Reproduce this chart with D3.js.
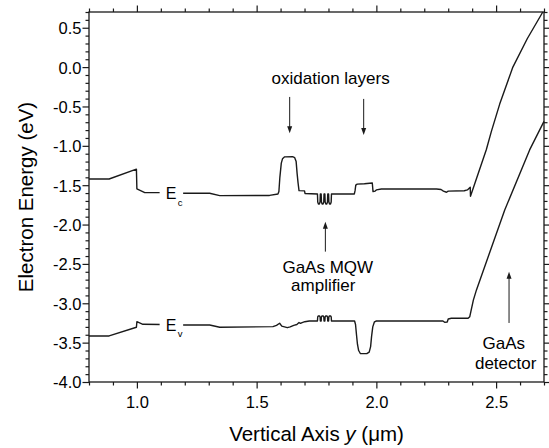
<!DOCTYPE html>
<html><head><meta charset="utf-8">
<script src="https://cdn.jsdelivr.net/npm/d3@7"></script>
<style>
body{margin:0;background:#fff}
svg{display:block}
text{font-family:"Liberation Sans",Arial,Helvetica,sans-serif;fill:#000}
</style>
</head><body>
<svg id="chart" width="549" height="448"></svg>
<script>
// ---------- data (position in µm, energy in eV) ----------
const ecData = [
  [0.80,-1.421],[0.884,-1.421],[0.998,-1.297],[1.000,-1.548],[1.033,-1.595],[1.100,-1.595],
  [1.192,-1.602],[1.304,-1.602],[1.346,-1.633],[1.554,-1.630],[1.589,-1.612],
  [1.593,-1.580],[1.597,-1.400],[1.603,-1.220],[1.608,-1.165],[1.617,-1.140],[1.650,-1.138],
  [1.659,-1.150],[1.665,-1.200],[1.669,-1.350],[1.673,-1.470],[1.677,-1.569],[1.700,-1.572],
  [1.702,-1.605],[1.754,-1.611],
  [1.7552,-1.715],[1.758,-1.738],[1.762,-1.738],[1.7648,-1.715],[1.766,-1.611],
  [1.7695,-1.611],[1.7707,-1.715],[1.7735,-1.738],[1.7775,-1.738],[1.7803,-1.715],[1.7815,-1.611],
  [1.785,-1.611],[1.7862,-1.715],[1.789,-1.738],[1.793,-1.738],[1.7958,-1.715],[1.797,-1.611],
  [1.8005,-1.611],[1.8017,-1.715],[1.8045,-1.738],[1.8085,-1.738],[1.8113,-1.715],[1.8125,-1.611],
  [1.816,-1.611],[1.908,-1.611],[1.911,-1.570],[1.914,-1.500],[1.920,-1.487],[1.950,-1.482],
  [1.983,-1.472],[1.986,-1.582],[1.995,-1.575],[2.000,-1.560],[2.021,-1.548],[2.251,-1.548],
  [2.270,-1.555],[2.280,-1.575],[2.293,-1.590],[2.300,-1.576],[2.367,-1.570],[2.380,-1.560],
  [2.392,-1.525],[2.393,-1.640],[2.459,-1.050],[2.480,-0.820],[2.515,-0.470],[2.570,0.000],
  [2.630,0.360],[2.695,0.700]
];
const evData = [
  [0.80,-3.415],[0.884,-3.415],[0.998,-3.305],[1.000,-3.234],[1.025,-3.267],[1.100,-3.270],
  [1.192,-3.276],[1.304,-3.276],[1.346,-3.305],[1.568,-3.297],[1.583,-3.280],[1.596,-3.254],
  [1.605,-3.290],[1.628,-3.310],[1.640,-3.300],[1.655,-3.280],[1.668,-3.270],[1.677,-3.245],
  [1.683,-3.255],[1.690,-3.245],[1.701,-3.234],[1.720,-3.225],[1.754,-3.225],
  [1.755,-3.175],[1.757,-3.161],[1.763,-3.161],[1.765,-3.175],[1.766,-3.225],
  [1.7695,-3.225],[1.7705,-3.175],[1.7725,-3.161],[1.7785,-3.161],[1.7805,-3.175],[1.7815,-3.225],
  [1.785,-3.225],[1.786,-3.175],[1.788,-3.161],[1.794,-3.161],[1.796,-3.175],[1.797,-3.225],
  [1.8005,-3.225],[1.8015,-3.175],[1.8035,-3.161],[1.8095,-3.161],[1.8115,-3.175],[1.8125,-3.225],
  [1.819,-3.225],[1.909,-3.225],[1.913,-3.270],[1.917,-3.400],[1.921,-3.520],[1.926,-3.600],
  [1.933,-3.638],[1.960,-3.640],[1.970,-3.620],[1.976,-3.550],[1.980,-3.420],[1.985,-3.300],
  [1.992,-3.235],[2.000,-3.225],[2.278,-3.225],[2.285,-3.242],[2.296,-3.238],[2.300,-3.200],
  [2.313,-3.190],[2.383,-3.190],[2.390,-3.170],[2.395,-3.100],[2.405,-2.960],[2.418,-2.830],
  [2.536,-1.815],[2.640,-1.052],[2.700,-0.690]
];
const xDomain = [0.8, 2.7];
const yDomain = [-4.0, 0.7];
const xTickValues = [1.0, 1.5, 2.0, 2.5];
const xTickLabels = ["1.0", "1.5", "2.0", "2.5"];
const yTickValues = [0.5, 0.0, -0.5, -1.0, -1.5, -2.0, -2.5, -3.0, -3.5, -4.0];
const yTickLabels = ["0.5", "0.0", "-0.5", "-1.0", "-1.5", "-2.0", "-2.5", "-3.0", "-3.5", "-4.0"];
const xMinorValues = [0.8,0.9,1.0,1.1,1.2,1.3,1.4,1.5,1.6,1.7,1.8,1.9,2.0,2.1,2.2,2.3,2.4,2.5,2.6,2.7];
const yMinorValues = [0.7,0.6,0.5,0.4,0.3,0.2,0.1,0.0,-0.1,-0.2,-0.3,-0.4,-0.5,-0.6,-0.7,-0.8,-0.9,-1.0,
  -1.1,-1.2,-1.3,-1.4,-1.5,-1.6,-1.7,-1.8,-1.9,-2.0,-2.1,-2.2,-2.3,-2.4,-2.5,-2.6,-2.7,-2.8,-2.9,-3.0,
  -3.1,-3.2,-3.3,-3.4,-3.5,-3.6,-3.7,-3.8,-3.9,-4.0];

// ---------- drawing ----------
const svg = d3.select("#chart");
const L = 89, R = 544, T = 12, B = 382;
const x = d3.scaleLinear().domain(xDomain).range([L, R]);
const y = d3.scaleLinear().domain(yDomain).range([B, T]);
const ink = "#1a1a1a";

// axes (ticks outward on all four sides)
function axis(gen, tx, ty, vals, size, labels) {
  const a = gen.tickValues(vals).tickSizeInner(size).tickSizeOuter(0).tickPadding(3);
  if (labels) a.tickFormat((d, i) => labels[i]); else a.tickFormat("");
  const g = svg.append("g").attr("transform", `translate(${tx},${ty})`).call(a);
  g.select(".domain").remove();
  g.selectAll(".tick line").attr("stroke", ink).attr("stroke-width", 1.2);
  g.selectAll(".tick text").attr("fill", "#000").style("font-size", "16.5px")
    .style("font-family", '"Liberation Sans",Arial,sans-serif');
  return g;
}
const xMinorOnly = xMinorValues.filter(v => !xTickValues.some(t => Math.abs(t - v) < 1e-6));
const yMinorOnly = yMinorValues.filter(v => !yTickValues.some(t => Math.abs(t - v) < 1e-6));

axis(d3.axisBottom(x), 0, B, xMinorOnly, 3.5);
axis(d3.axisTop(x), 0, T, xMinorOnly, 3.5);
axis(d3.axisLeft(y), L, 0, yMinorOnly, 3.5);
axis(d3.axisRight(y), R, 0, yMinorOnly, 3.5);
const bx = axis(d3.axisBottom(x), 0, B, xTickValues, 6.5, xTickLabels);
bx.selectAll(".tick text").attr("dy", null).attr("y", 26);
axis(d3.axisTop(x), 0, T, xTickValues, 6.5);
const ly = axis(d3.axisLeft(y), L, 0, yTickValues, 6.5, yTickLabels);
ly.selectAll(".tick text").attr("x", -7.5).attr("dy", "0.36em");
axis(d3.axisRight(y), R, 0, yTickValues, 6.5);

// frame
svg.append("rect").attr("x", L).attr("y", T).attr("width", R - L).attr("height", B - T)
  .attr("fill", "none").attr("stroke", ink).attr("stroke-width", 1.3);

// band curves
const clip = svg.append("clipPath").attr("id", "pc").append("rect")
  .attr("x", L).attr("y", T - 1).attr("width", R - L + 1).attr("height", B - T + 1);
const line = d3.line().x(d => x(d[0])).y(d => y(d[1]));
[ecData, evData].forEach(data => {
  svg.append("path").datum(data).attr("d", line).attr("fill", "none")
    .attr("stroke", ink).attr("stroke-width", 1.4).attr("stroke-linejoin", "round")
    .attr("clip-path", "url(#pc)");
});

// band labels with white gap behind them
function bandLabel(v, e, main, sub) {
  const px = x(v), py = y(e);
  svg.append("rect").attr("x", px - 6).attr("y", py - 12).attr("width", 23.5).attr("height", 13)
    .attr("fill", "#fff");
  const t = svg.append("text").attr("x", px).attr("y", py).style("font-size", "16px");
  t.append("tspan").text(main);
  t.append("tspan").attr("dx", 1.5).attr("dy", 6.5).style("font-size", "9.5px").text(sub);
}
bandLabel(1.120, -1.679, "E", "c");
bandLabel(1.120, -3.348, "E", "v");

// annotations
function ann(v, e, txt, size, anchor) {
  svg.append("text").attr("x", x(v)).attr("y", y(e)).attr("text-anchor", anchor || "middle")
    .style("font-size", size + "px").text(txt);
}
function arrow(v, e0, e1) {
  const px = x(v), y0 = y(e0), y1 = y(e1);
  const dir = y1 > y0 ? 1 : -1;
  svg.append("line").attr("x1", px).attr("x2", px).attr("y1", y0).attr("y2", y1 - dir * 5)
    .attr("stroke", ink).attr("stroke-width", 1);
  svg.append("path")
    .attr("d", `M${px},${y1} L${px - 2.5},${y1 - dir * 7} L${px + 2.5},${y1 - dir * 7} Z`)
    .attr("fill", ink);
}
ann(1.809, -0.214, "oxidation layers", 17);
arrow(1.638, -0.379, -0.840);
arrow(1.947, -0.404, -0.861);
ann(1.797, -2.615, "GaAs MQW", 17);
ann(1.778, -2.844, "amplifier", 17);
arrow(1.787, -2.344, -1.963);
ann(2.532, -3.581, "GaAs", 17);
ann(2.540, -3.835, "detector", 17);
arrow(2.554, -3.250, -2.598);

// axis titles
const xt = svg.append("text").attr("x", (L + R) / 2).attr("y", 441).attr("text-anchor", "middle")
  .style("font-size", "20.5px");
xt.append("tspan").text("Vertical Axis ");
xt.append("tspan").style("font-style", "italic").text("y");
xt.append("tspan").text(" (\u03bcm)");
svg.append("text").attr("transform", `translate(33,${(T + B) / 2}) rotate(-90)`)
  .attr("text-anchor", "middle").style("font-size", "20.5px").text("Electron Energy (eV)");
</script>
</body></html>
